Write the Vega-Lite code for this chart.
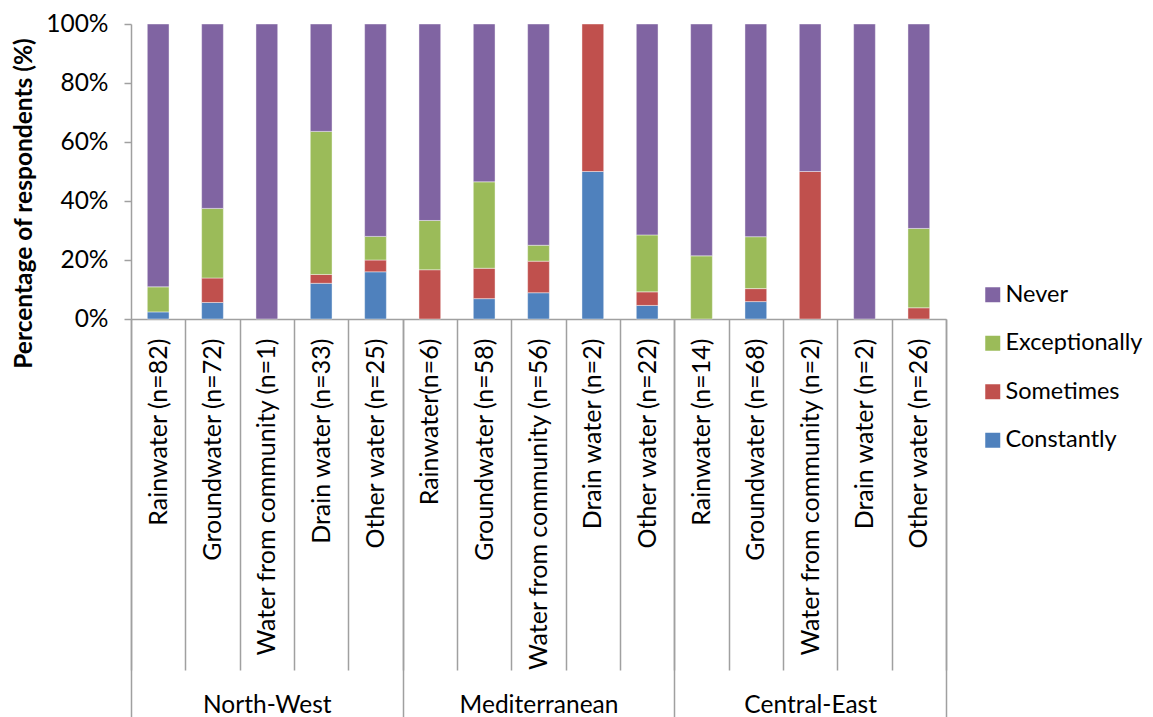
{
  "$schema": "https://vega.github.io/schema/vega-lite/v6.json",
  "width": 815,
  "height": 295,
  "autosize": {"type": "none"},
  "padding": {"left": 131, "top": 24, "right": 207, "bottom": 398},
  "background": "white",
  "config": {
    "font": "Lato",
    "view": {"stroke": null},
    "axis": {"labelColor": "#000000", "titleColor": "#000000", "domainColor": "#a0a0a0", "tickColor": "#a0a0a0", "domainWidth": 1.5, "tickWidth": 1.5}
  },
  "data": {
    "values": [
      {"key": "North-West|Rainwater (n=82)", "region": "North-West", "response": "Constantly", "level": 3, "pct": 2.4},
      {"key": "North-West|Rainwater (n=82)", "region": "North-West", "response": "Exceptionally", "level": 1, "pct": 8.5},
      {"key": "North-West|Rainwater (n=82)", "region": "North-West", "response": "Never", "level": 0, "pct": 89.1},
      {"key": "North-West|Groundwater (n=72)", "region": "North-West", "response": "Constantly", "level": 3, "pct": 5.6},
      {"key": "North-West|Groundwater (n=72)", "region": "North-West", "response": "Sometimes", "level": 2, "pct": 8.3},
      {"key": "North-West|Groundwater (n=72)", "region": "North-West", "response": "Exceptionally", "level": 1, "pct": 23.6},
      {"key": "North-West|Groundwater (n=72)", "region": "North-West", "response": "Never", "level": 0, "pct": 62.5},
      {"key": "North-West|Water from community (n=1)", "region": "North-West", "response": "Never", "level": 0, "pct": 100},
      {"key": "North-West|Drain water (n=33)", "region": "North-West", "response": "Constantly", "level": 3, "pct": 12.1},
      {"key": "North-West|Drain water (n=33)", "region": "North-West", "response": "Sometimes", "level": 2, "pct": 3.0},
      {"key": "North-West|Drain water (n=33)", "region": "North-West", "response": "Exceptionally", "level": 1, "pct": 48.5},
      {"key": "North-West|Drain water (n=33)", "region": "North-West", "response": "Never", "level": 0, "pct": 36.4},
      {"key": "North-West|Other water (n=25)", "region": "North-West", "response": "Constantly", "level": 3, "pct": 16},
      {"key": "North-West|Other water (n=25)", "region": "North-West", "response": "Sometimes", "level": 2, "pct": 4},
      {"key": "North-West|Other water (n=25)", "region": "North-West", "response": "Exceptionally", "level": 1, "pct": 8},
      {"key": "North-West|Other water (n=25)", "region": "North-West", "response": "Never", "level": 0, "pct": 72},
      {"key": "Mediterranean|Rainwater(n=6)", "region": "Mediterranean", "response": "Sometimes", "level": 2, "pct": 16.7},
      {"key": "Mediterranean|Rainwater(n=6)", "region": "Mediterranean", "response": "Exceptionally", "level": 1, "pct": 16.7},
      {"key": "Mediterranean|Rainwater(n=6)", "region": "Mediterranean", "response": "Never", "level": 0, "pct": 66.6},
      {"key": "Mediterranean|Groundwater (n=58)", "region": "Mediterranean", "response": "Constantly", "level": 3, "pct": 6.9},
      {"key": "Mediterranean|Groundwater (n=58)", "region": "Mediterranean", "response": "Sometimes", "level": 2, "pct": 10.3},
      {"key": "Mediterranean|Groundwater (n=58)", "region": "Mediterranean", "response": "Exceptionally", "level": 1, "pct": 29.3},
      {"key": "Mediterranean|Groundwater (n=58)", "region": "Mediterranean", "response": "Never", "level": 0, "pct": 53.5},
      {"key": "Mediterranean|Water from community (n=56)", "region": "Mediterranean", "response": "Constantly", "level": 3, "pct": 8.9},
      {"key": "Mediterranean|Water from community (n=56)", "region": "Mediterranean", "response": "Sometimes", "level": 2, "pct": 10.7},
      {"key": "Mediterranean|Water from community (n=56)", "region": "Mediterranean", "response": "Exceptionally", "level": 1, "pct": 5.4},
      {"key": "Mediterranean|Water from community (n=56)", "region": "Mediterranean", "response": "Never", "level": 0, "pct": 75.0},
      {"key": "Mediterranean|Drain water (n=2)", "region": "Mediterranean", "response": "Constantly", "level": 3, "pct": 50},
      {"key": "Mediterranean|Drain water (n=2)", "region": "Mediterranean", "response": "Sometimes", "level": 2, "pct": 50},
      {"key": "Mediterranean|Other water (n=22)", "region": "Mediterranean", "response": "Constantly", "level": 3, "pct": 4.6},
      {"key": "Mediterranean|Other water (n=22)", "region": "Mediterranean", "response": "Sometimes", "level": 2, "pct": 4.6},
      {"key": "Mediterranean|Other water (n=22)", "region": "Mediterranean", "response": "Exceptionally", "level": 1, "pct": 19.3},
      {"key": "Mediterranean|Other water (n=22)", "region": "Mediterranean", "response": "Never", "level": 0, "pct": 71.5},
      {"key": "Central-East|Rainwater (n=14)", "region": "Central-East", "response": "Exceptionally", "level": 1, "pct": 21.4},
      {"key": "Central-East|Rainwater (n=14)", "region": "Central-East", "response": "Never", "level": 0, "pct": 78.6},
      {"key": "Central-East|Groundwater (n=68)", "region": "Central-East", "response": "Constantly", "level": 3, "pct": 5.9},
      {"key": "Central-East|Groundwater (n=68)", "region": "Central-East", "response": "Sometimes", "level": 2, "pct": 4.4},
      {"key": "Central-East|Groundwater (n=68)", "region": "Central-East", "response": "Exceptionally", "level": 1, "pct": 17.6},
      {"key": "Central-East|Groundwater (n=68)", "region": "Central-East", "response": "Never", "level": 0, "pct": 72.1},
      {"key": "Central-East|Water from community (n=2)", "region": "Central-East", "response": "Sometimes", "level": 2, "pct": 50},
      {"key": "Central-East|Water from community (n=2)", "region": "Central-East", "response": "Never", "level": 0, "pct": 50},
      {"key": "Central-East|Drain water (n=2)", "region": "Central-East", "response": "Never", "level": 0, "pct": 100},
      {"key": "Central-East|Other water (n=26)", "region": "Central-East", "response": "Sometimes", "level": 2, "pct": 3.8},
      {"key": "Central-East|Other water (n=26)", "region": "Central-East", "response": "Exceptionally", "level": 1, "pct": 26.9},
      {"key": "Central-East|Other water (n=26)", "region": "Central-East", "response": "Never", "level": 0, "pct": 69.3}
    ]
  },
  "layer": [
    {
      "mark": {"type": "bar", "width": {"band": 0.4}, "stroke": "white", "strokeWidth": 0.6, "strokeOpacity": 0.7},
      "encoding": {
        "x": {
          "field": "key",
          "type": "nominal",
          "sort": null,
          "scale": {"paddingInner": 0, "paddingOuter": 0},
          "axis": {
            "title": null,
            "orient": "bottom",
            "labelAngle": -90,
            "labelExpr": "slice(datum.label, indexof(datum.label, '|') + 1)",
            "labelFontSize": 25,
            "labelLimit": 500,
            "labelOverlap": false,
            "labelPadding": -332,
            "tickBand": "extent",
            "tickSize": 351
          }
        },
        "y": {
          "field": "pct",
          "type": "quantitative",
          "stack": "normalize",
          "scale": {"domain": [0, 1], "nice": false},
          "axis": {
            "title": "Percentage of respondents (%)",
            "titleFontSize": 24.5,
            "titleFontWeight": "bold",
            "titleX": -107,
            "titleY": 179,
            "titleAngle": 270,
            "titleAlign": "center",
            "titleBaseline": "middle",
            "values": [0, 0.2, 0.4, 0.6, 0.8, 1],
            "format": ".0%",
            "grid": false,
            "tickSize": 7,
            "labelPadding": 16,
            "labelFontSize": 24.5
          }
        },
        "color": {
          "field": "response",
          "type": "nominal",
          "scale": {
            "domain": ["Never", "Exceptionally", "Sometimes", "Constantly"],
            "range": ["#8064A2", "#9BBB59", "#C0504D", "#4F81BD"]
          },
          "legend": {
            "title": null,
            "orient": "none",
            "legendX": 850,
            "legendY": 259,
            "symbolType": "square",
            "symbolSize": 225,
            "symbolStrokeWidth": 0,
            "labelFontSize": 23.5,
            "labelColor": "#000000",
            "labelOffset": 1,
            "rowPadding": 23.5
          }
        },
        "order": {"field": "level", "sort": "descending"}
      }
    },
    {
      "mark": {"type": "rule", "opacity": 0},
      "encoding": {
        "x": {
          "field": "region",
          "type": "nominal",
          "sort": null,
          "scale": {"paddingInner": 0, "paddingOuter": 0},
          "axis": {
            "title": null,
            "orient": "bottom",
            "domain": false,
            "labelAngle": 0,
            "labelFontSize": 24.5,
            "labelPadding": -24,
            "tickBand": "extent",
            "tickSize": 398
          }
        }
      }
    }
  ],
  "resolve": {"scale": {"x": "independent"}}
}
